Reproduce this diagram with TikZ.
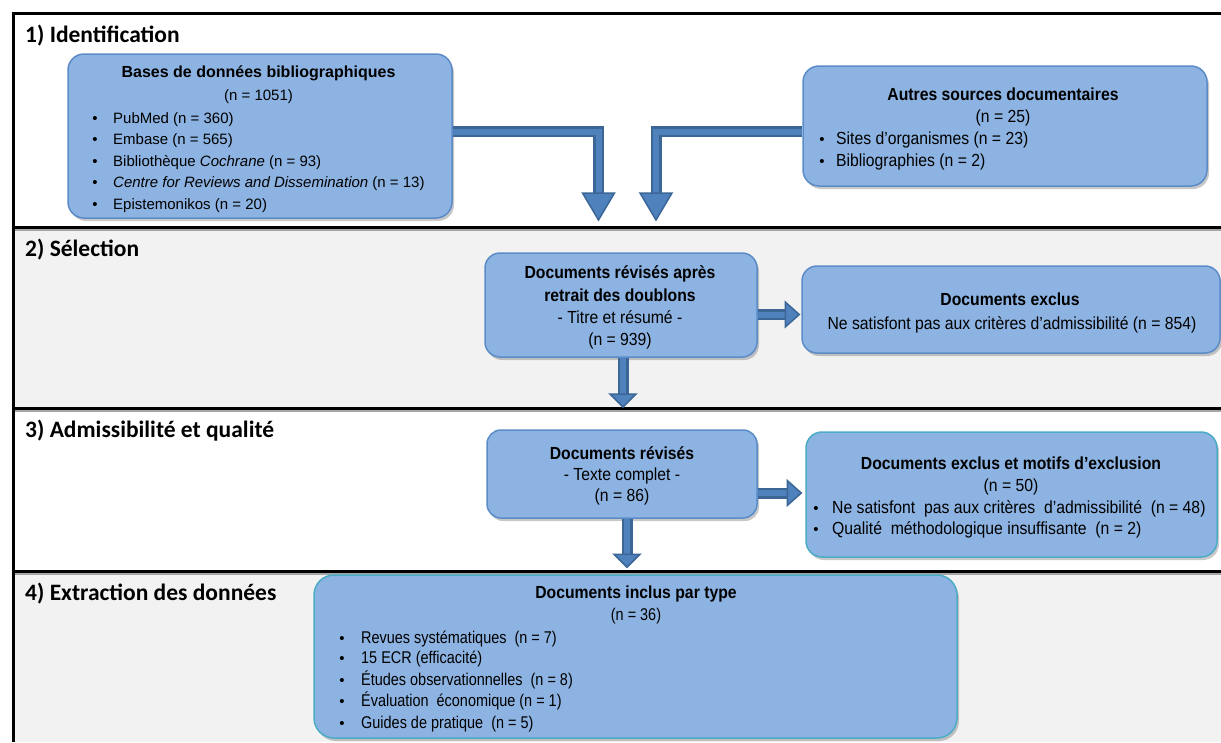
\documentclass[tikz,border=0pt]{standalone}
\usepackage{fontspec}
\setmainfont{Liberation Sans}
\newfontfamily\headfont{Carlito}
\newfontfamily\narrowfont[FakeStretch=0.9]{Liberation Sans}
\newfontfamily\narrowerfont[FakeStretch=0.85]{Liberation Sans}
\usetikzlibrary{shadows,calc}
\definecolor{boxfill}{HTML}{8DB3E2}
\definecolor{boxline}{HTML}{5B8CC8}
\definecolor{tealline}{HTML}{4BACC6}
\definecolor{arrdark}{HTML}{3B6696}
\definecolor{arrlight}{HTML}{4F81BD}
\definecolor{bggray}{HTML}{F2F2F2}
\tikzset{
 box/.style={draw=boxline, line width=1.5pt, fill=boxfill, rounded corners=16pt,
   drop shadow={shadow xshift=2pt, shadow yshift=-3pt, opacity=0.3, fill=black!70}, inner sep=0pt},
 tealbox/.style={box, draw=tealline},
 ttl/.style={font=\fontsize{16}{19}\selectfont\bfseries, anchor=base, inner sep=0pt},
 txt/.style={font=\fontsize{15}{19}\selectfont, anchor=base, inner sep=0pt},
 ttln/.style={font=\narrowfont\fontsize{17.5}{20}\selectfont\bfseries, anchor=base, inner sep=0pt},
 txtn/.style={font=\narrowfont\fontsize{17.5}{20}\selectfont, anchor=base, inner sep=0pt},
 txti/.style={font=\narrowerfont\fontsize{17}{20}\selectfont, anchor=base, inner sep=0pt},
 bl/.style={txt, anchor=base west},
 bln/.style={txtn, anchor=base west},
 bli/.style={txti, anchor=base west},
 dot/.style={txt, anchor=base},
 head/.style={font=\headfont\bfseries\fontsize{23.5}{28}\selectfont, anchor=base west, inner sep=0pt},
 shaftout/.style={draw=arrdark, line width=11pt, line join=miter},
 shaftin/.style={draw=arrlight, line width=6pt, line join=miter},
 arrhead/.style={fill=arrlight, draw=arrdark, line width=1.5pt, line join=miter},
 sepline/.style={line width=3pt, black},
 sepshade/.style={line width=2pt, black!35},
}
\begin{document}
\begin{tikzpicture}[x=1pt,y=-1pt]
\useasboundingbox (0,0) rectangle (1221,742);
% backgrounds
\fill[white] (0,0) rectangle (1221,742);
\fill[bggray] (13,227) rectangle (1221,408);
\fill[bggray] (13,571) rectangle (1221,742);
% frame
\draw[sepshade] (13,229.5) -- (1221,229.5);
\draw[sepshade] (13,410.5) -- (1221,410.5);
\draw[sepshade] (13,573.5) -- (1221,573.5);
\draw[sepline] (11.5,13) -- (1221,13);
\draw[sepline] (13,13) -- (13,742);
\draw[sepline] (13,227) -- (1221,227);
\draw[sepline] (13,408) -- (1221,408);
\draw[sepline] (13,571) -- (1221,571);
% headings
\node[head] (h1) at (25,42.7) {1) Identification};
\node[head] (h2) at (25,256) {2) Sélection};
\node[head] (h3) at (25,437) {3) Admissibilité et qualité};
\node[head] (h4) at (25,600) {4) Extraction des données};
% boxes
\node[box, minimum width=384pt, minimum height=164pt] (b1) at (260,136) {};
\node[box, minimum width=404pt, minimum height=120pt] (b2) at (1005,126) {};
\node[box, minimum width=272pt, minimum height=104pt, rounded corners=15pt] (a2) at (621,305) {};
\node[box, minimum width=418pt, minimum height=87pt, rounded corners=15pt] (x2) at (1011,309.5) {};
\node[box, minimum width=270pt, minimum height=88pt, rounded corners=14pt] (a3) at (622,474) {};
\node[tealbox, minimum width=411pt, minimum height=125pt] (x3) at (1011.5,494.5) {};
\node[tealbox, minimum width=643pt, minimum height=163pt, rounded corners=20pt] (inc) at (635.5,656.5) {};
% arrows
\coordinate (r1) at (0,131.5);
\coordinate (c1) at (598.5,131.5);
\coordinate (t1) at (598.5,220);
\draw[shaftout] (b1.east |- r1) -- (c1) -- ($(t1)+(0,-26)$);
\draw[shaftin] (b1.east |- r1) -- (c1) -- ($(t1)+(0,-26)$);
\draw[arrhead] ($(t1)+(-16,-27)$) -- ($(t1)+(16,-27)$) -- (t1) -- cycle;
\coordinate (c2) at (656,131.5);
\coordinate (t2) at (656,220);
\draw[shaftout] (b2.west |- r1) -- (c2) -- ($(t2)+(0,-26)$);
\draw[shaftin] (b2.west |- r1) -- (c2) -- ($(t2)+(0,-26)$);
\draw[arrhead] ($(t2)+(-16,-27)$) -- ($(t2)+(16,-27)$) -- (t2) -- cycle;
% section 2 arrows
\coordinate (r3) at (0,314.5);
\coordinate (t3) at ($(x2.west |- r3)+(-2,0)$);
\draw[shaftout] (a2.east |- r3) -- ($(t3)+(-13,0)$);
\draw[shaftin] (a2.east |- r3) -- ($(t3)+(-13,0)$);
\draw[arrhead] ($(t3)+(-14,-12.5)$) -- ($(t3)+(-14,12.5)$) -- (t3) -- cycle;
\coordinate (v4) at (623,0);
\coordinate (t4) at (623,407);
\draw[shaftout] (a2.south -| v4) -- ($(t4)+(0,-12)$);
\draw[shaftin] (a2.south -| v4) -- ($(t4)+(0,-12)$);
\draw[arrhead] ($(t4)+(-13,-13)$) -- ($(t4)+(13,-13)$) -- (t4) -- cycle;
% section 3 arrows
\coordinate (r5) at (0,493);
\coordinate (t5) at ($(x3.west |- r5)+(-4,0)$);
\draw[shaftout] (a3.east |- r5) -- ($(t5)+(-13,0)$);
\draw[shaftin] (a3.east |- r5) -- ($(t5)+(-13,0)$);
\draw[arrhead] ($(t5)+(-14,-12.5)$) -- ($(t5)+(-14,12.5)$) -- (t5) -- cycle;
\coordinate (v6) at (627,0);
\coordinate (t6) at ($(inc.north -| v6)+(0,-7)$);
\draw[shaftout] (a3.south -| v6) -- ($(t6)+(0,-12)$);
\draw[shaftin] (a3.south -| v6) -- ($(t6)+(0,-12)$);
\draw[arrhead] ($(t6)+(-13,-13)$) -- ($(t6)+(13,-13)$) -- (t6) -- cycle;
% box 1 text
\node[ttl] (b1t) at (258.5,77) {Bases de données bibliographiques};
\node[txt] (b1n) at (258.5,100) {(n = 1051)};
\foreach \yy/\tx [count=\i] in {123/{PubMed (n = 360)}, 144.5/{Embase (n = 565)}, 166/{Bibliothèque \textit{Cochrane} (n = 93)}, 187.5/{\textit{Centre for Reviews and Dissemination} (n = 13)}, 209/{Epistemonikos (n = 20)}}{
  \node[dot] (b1d\i) at (95,\yy) {•};
  \node[bl] (b1l\i) at (113,\yy) {\tx};
}
% box 2 text
\node[ttln] (b2t) at (1003,100) {Autres sources documentaires};
\node[txtn] (b2n) at (1003,122.5) {(n = 25)};
\node[dot] (b2d1) at (822,144.5) {•};
\node[bln] (b2l1) at (836,144.5) {Sites d’organismes (n = 23)};
\node[dot] (b2d2) at (822,166) {•};
\node[bln] (b2l2) at (836,166) {Bibliographies (n = 2)};
% a2 text
\node[ttln] (a2t1) at (620,278) {Documents révisés après};
\node[ttln] (a2t2) at (620,301) {retrait des doublons};
\node[txtn] (a2s) at (620,323) {- Titre et résumé -};
\node[txtn] (a2n) at (620,345) {(n = 939)};
% x2 text
\node[ttln] (x2t) at (1010,305) {Documents exclus};
\node[txtn] (x2s) at (1012,329) {Ne satisfont pas aux critères d’admissibilité (n = 854)};
% a3 text
\node[ttln] (a3t) at (622,459) {Documents révisés};
\node[txtn] (a3s) at (622,480) {- Texte complet -};
\node[txtn] (a3n) at (622,501) {(n = 86)};
% x3 text
\node[ttln] (x3t) at (1011,469) {Documents exclus et motifs d’exclusion};
\node[txtn] (x3n) at (1011,491) {(n = 50)};
\node[dot] (x3d1) at (816,513) {•};
\node[bln] (x3l1) at (832,513) {Ne satisfont\ \ pas aux critères\ \ d’admissibilité\ \ (n = 48)};
\node[dot] (x3d2) at (816,534) {•};
\node[bln] (x3l2) at (832,534) {Qualité\ \ méthodologique insuffisante\ \ (n = 2)};
% inc text
\node[ttln] (inct) at (636,598) {Documents inclus par type};
\node[txti] (incn) at (636,620) {(n = 36)};
\foreach \yy/\tx [count=\i] in {643/{Revues systématiques\ \ (n = 7)}, 663.5/{15 ECR (efficacité)}, 685/{Études observationnelles\ \ (n = 8)}, 706.5/{Évaluation\ \ économique (n = 1)}, 728/{Guides de pratique\ \ (n = 5)}}{
  \node[dot] (incd\i) at (342,\yy) {•};
  \node[bli] (incl\i) at (361,\yy) {\tx};
}
\end{tikzpicture}
\end{document}
